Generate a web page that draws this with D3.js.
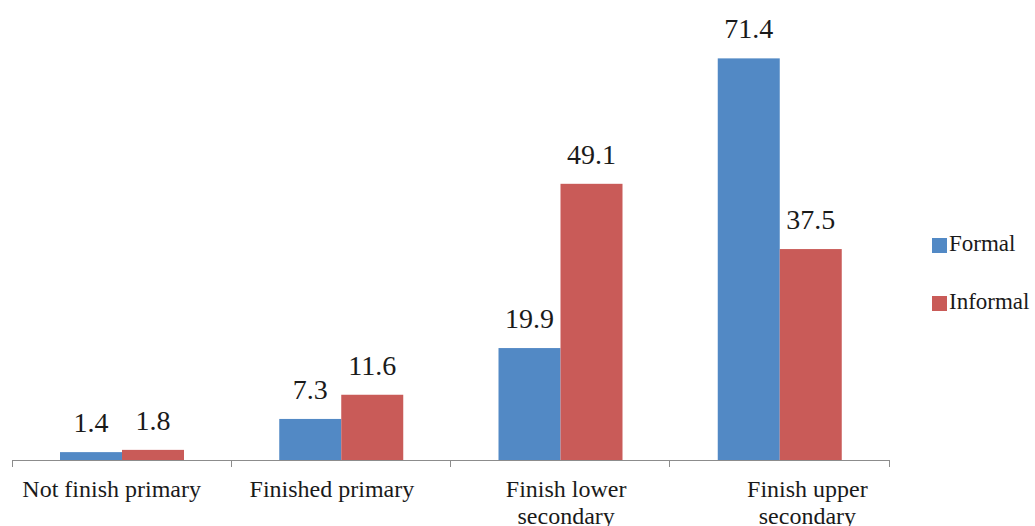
<!DOCTYPE html>
<meta charset="utf-8">
<svg width="1035" height="526"></svg>
<script src="https://cdn.jsdelivr.net/npm/d3@7"></script>
<script>
    var categories = [
        ["Not finish primary"],
        ["Finished primary"],
        ["Finish lower", "secondary"],
        ["Finish upper", "secondary"]
    ];
    var seriesNames = ["Formal", "Informal"];
    var formal = [1.4, 7.3, 19.9, 71.4];
    var informal = [1.8, 11.6, 49.1, 37.5];
    var colors = ["#5289c5", "#c95b58"];

    var svg = d3.select("svg"),
        left = 12, right = 889, base = 460,
        font = "Liberation Serif", ink = "#1a1a1a", axisColor = "#8c8c8c";

    d3.select("body").style("margin", "0");

    var x0 = d3.scaleBand().domain(d3.range(categories.length)).range([left, right])
            .paddingInner(0).paddingOuter(0),
        x1 = d3.scaleBand().domain(seriesNames).range([48, 172]),
        y = d3.scaleLinear().domain([0, 80]).range([base, 10]);

    var rows = categories.map(function (c, i) {
        return [formal[i], informal[i]];
    });

    // bars
    var groups = svg.selectAll(".grp").data(rows).enter().append("g")
        .attr("transform", function (d, i) { return "translate(" + x0(i) + ",0)"; });

    groups.selectAll("rect").data(function (d) { return d; }).enter().append("rect")
        .attr("x", function (d, j) { return x1(seriesNames[j]); })
        .attr("width", x1.bandwidth())
        .attr("y", function (d) { return y(d); })
        .attr("height", function (d) { return base - y(d); })
        .attr("fill", function (d, j) { return colors[j]; });

    groups.selectAll(".val").data(function (d) { return d; }).enter().append("text")
        .attr("x", function (d, j) { return x1(seriesNames[j]) + x1.bandwidth() / 2; })
        .attr("y", function (d) { return y(d) - 20; })
        .attr("text-anchor", "middle")
        .attr("font-family", font)
        .style("font-family", font)
        .style("font-size", "28px")
        .attr("fill", ink)
        .text(function (d) { return d.toFixed(1); });

    // axis
    var axis = svg.append("g")
        .attr("transform", "translate(0," + base + ")")
        .attr("stroke", axisColor)
        .attr("shape-rendering", "crispEdges");
    axis.append("line").attr("x1", left).attr("x2", right).attr("y1", 0).attr("y2", 0);
    axis.selectAll(".tick").data(d3.range(categories.length + 1)).enter().append("line")
        .attr("x1", function (i) { return left + i * x0.step(); })
        .attr("x2", function (i) { return left + i * x0.step(); })
        .attr("y1", 0).attr("y2", 7);

    var labelShift = [-10, -9, 6, 28];
    var labels = svg.selectAll(".cat").data(categories).enter().append("text")
        .attr("text-anchor", "middle")
        .attr("font-family", font)
        .style("font-family", font)
        .style("font-size", "24px")
        .attr("fill", ink)
        .attr("transform", function (d, i) {
            return "translate(" + (x0(i) + x0.bandwidth() / 2 + labelShift[i]) + "," + (base + 37) + ")";
        });
    labels.selectAll("tspan").data(function (d) { return d; }).enter().append("tspan")
        .attr("x", 0)
        .attr("dy", function (d, k) { return k === 0 ? 0 : 27; })
        .text(function (d) { return d; });

    // legend
    var legend = svg.selectAll(".leg").data(seriesNames).enter().append("g")
        .attr("transform", function (d, i) { return "translate(932," + (238 + i * 58) + ")"; });
    legend.append("rect").attr("width", 15).attr("height", 15)
        .attr("fill", function (d, i) { return colors[i]; });
    legend.append("text").attr("x", 17).attr("y", 13)
        .attr("font-family", font)
        .style("font-family", font)
        .style("font-size", "23px")
        .attr("fill", ink)
        .text(function (d) { return d; });
</script>
